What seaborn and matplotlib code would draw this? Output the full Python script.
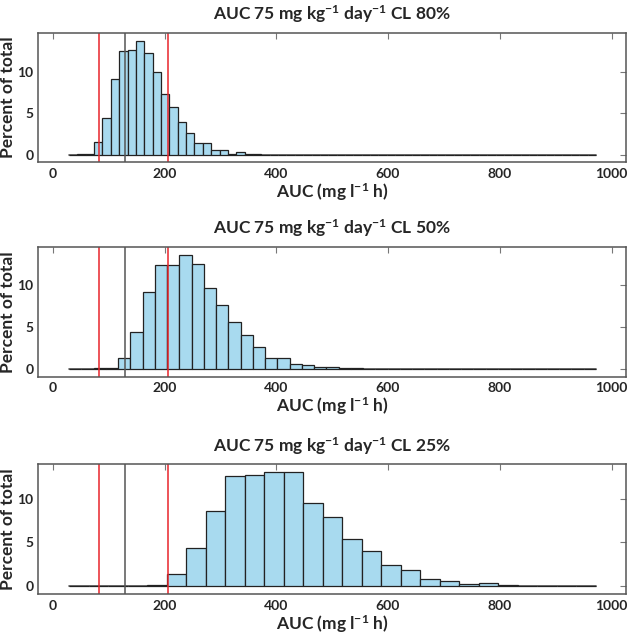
import matplotlib
matplotlib.use("Agg")
import matplotlib.pyplot as plt
import numpy as np
import pandas as pd
import seaborn as sns

# histogram data: percent of total per bin
auc_range = (29, 972)

bins_cl80 = 63
first_bin_cl80 = 1
pct_cl80 = [0.05, 0.1, 1.49, 4.43, 9.07, 12.5, 12.6, 13.75, 12.3, 9.95, 7.26,
            5.72, 3.91, 2.62, 1.37, 1.37, 0.52, 0.52, 0.1, 0.3, 0.05, 0.05]

bins_cl50 = 43
first_bin_cl50 = 2
pct_cl50 = [0.05, 0.12, 1.32, 4.4, 9.12, 12.4, 12.4, 13.6, 12.5, 9.68, 7.6,
            5.52, 4.0, 2.6, 1.28, 1.28, 0.52, 0.4, 0.24, 0.2, 0.12, 0.08]

bins_cl25 = 27
first_bin_cl25 = 4
pct_cl25 = [0.15, 1.35, 4.35, 8.65, 12.57, 12.76, 13.07, 13.07, 9.5, 7.96,
            5.38, 4.04, 2.42, 1.85, 0.77, 0.58, 0.19, 0.31, 0.1, 0.05]

titles = ["AUC 75 mg kg$^{-1}$ day$^{-1}$ CL 80%",
          "AUC 75 mg kg$^{-1}$ day$^{-1}$ CL 50%",
          "AUC 75 mg kg$^{-1}$ day$^{-1}$ CL 25%"]

# reference lines
red_lines = [83, 206]
gray_line = 130

sns.set_style("white")
plt.rcParams['font.family'] = ['Lato', 'DejaVu Sans']
plt.rcParams['font.weight'] = 'bold'
plt.rcParams['mathtext.default'] = 'regular'
plt.rcParams['axes.unicode_minus'] = True

fig = plt.figure(figsize=(6.29, 6.34), dpi=100)
bottoms = [0.7437, 0.4058, 0.0631]

panels = [(bins_cl80, first_bin_cl80, pct_cl80),
          (bins_cl50, first_bin_cl50, pct_cl50),
          (bins_cl25, first_bin_cl25, pct_cl25)]

for i, (nb, first, pct) in enumerate(panels):
    ax = fig.add_axes([0.0609, bottoms[i], 0.9344, 0.205])
    edges = np.linspace(auc_range[0], auc_range[1], nb + 1)
    centers = (edges[:-1] + edges[1:]) / 2
    weights = np.zeros(nb)
    weights[first:first + len(pct)] = pct
    df = pd.DataFrame({'auc': centers, 'pct': weights})
    sns.histplot(data=df, x='auc', weights='pct', bins=nb, binrange=auc_range,
                 ax=ax, color='#A8DAEF', edgecolor='#222222', linewidth=0.9,
                 alpha=1.0)
    ax.axhline(0, xmin=(auc_range[0] + 26) / 1052, xmax=(auc_range[1] + 26) / 1052,
               color='#555555', lw=1.2, zorder=0.5)
    for r in red_lines:
        ax.axvline(r, color='#E8252B', lw=1.1)
    ax.axvline(gray_line, color='#555555', lw=1.1)

    m = max(pct)
    ax.set_xlim(-26, 1026)
    ax.set_ylim(-0.07 * m, 1.07 * m)
    ax.set_xticks([0, 200, 400, 600, 800, 1000])
    ax.set_yticks([0, 5, 10])
    ax.tick_params(direction='in', length=4, width=0.8, color='#777777',
                   labelsize=10, top=True, right=True)
    ax.tick_params(axis='x', pad=4)
    ax.tick_params(axis='y', pad=3.5)
    for lab in ax.get_xticklabels() + ax.get_yticklabels():
        lab.set_fontweight('bold')
    for s in ax.spines.values():
        s.set_color('#555555')
        s.set_linewidth(1.1)
    ax.set_title(titles[i], fontsize=12.5, fontweight='bold', pad=9)
    ax.set_xlabel("AUC (mg l$^{-1}$ h)", fontsize=12.5, fontweight='bold', labelpad=1)
    ax.set_ylabel("Percent of total", fontsize=12.5, fontweight='bold', labelpad=1)

fig.savefig("out.png", dpi=100)
